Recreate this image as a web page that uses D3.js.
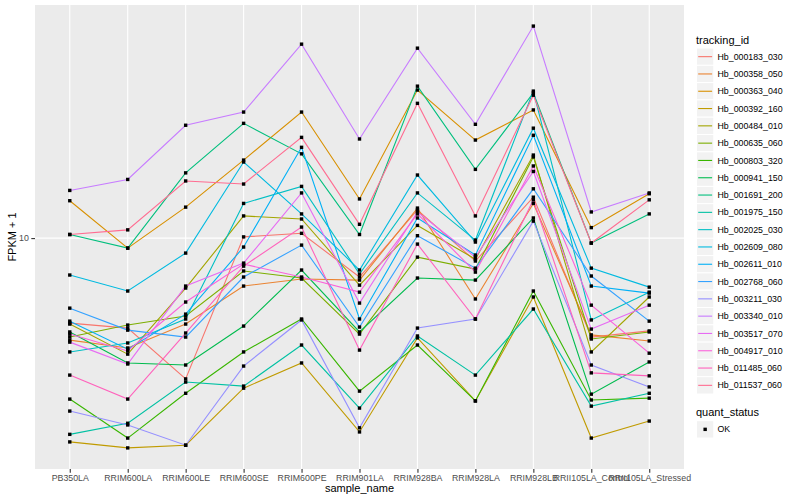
<!DOCTYPE html>
<html>
<head>
<meta charset="utf-8">
<script src="https://cdnjs.cloudflare.com/ajax/libs/d3/7.8.5/d3.min.js"></script>
<style>
  body { margin: 0; background: #fff; }
  svg { display: block; font-family: "Liberation Sans", Arial, sans-serif; }
</style>
</head>
<body>
<div id="chart"></div>
<script>
// FPKM + 1 per sample (log scale)
var samples = ["PB350LA", "RRIM600LA", "RRIM600LE", "RRIM600SE", "RRIM600PE",
  "RRIM901LA", "RRIM928BA", "RRIM928LA", "RRIM928LB", "RRII105LA_Control", "RRII105LA_Stressed"];

var trackingIds = ["Hb_000183_030", "Hb_000358_050", "Hb_000363_040", "Hb_000392_160",
  "Hb_000484_010", "Hb_000635_060", "Hb_000803_320", "Hb_000941_150", "Hb_001691_200",
  "Hb_001975_150", "Hb_002025_030", "Hb_002609_080", "Hb_002611_010", "Hb_002768_060",
  "Hb_003211_030", "Hb_003340_010", "Hb_003517_070", "Hb_004917_010", "Hb_011485_060",
  "Hb_011537_060"];

var hb_000183_030 = [4.97, 4.77, 3.14, 10.1, 10.4, 7.26, 12.6, 8.28, 14.0, 4.43, 4.66];
var hb_000358_050 = [4.32, 4.05, 4.93, 6.74, 7.14, 7.08, 12.8, 6.06, 13.3, 4.51, 4.29];
var hb_000363_040 = [13.6, 9.21, 12.9, 19.0, 28.2, 13.8, 33.8, 22.4, 28.7, 10.9, 14.4];
var hb_000392_160 = [1.87, 1.78, 1.82, 2.91, 3.58, 2.03, 4.40, 2.62, 6.16, 1.93, 2.22];
var hb_000484_010 = [4.93, 3.85, 6.63, 12.0, 11.7, 6.79, 11.1, 8.41, 19.8, 3.92, 6.16];
var hb_000635_060 = [4.43, 4.89, 5.27, 7.63, 7.20, 4.54, 8.55, 7.75, 19.5, 4.36, 4.62];
var hb_000803_320 = [2.66, 1.93, 2.79, 3.92, 5.14, 2.84, 4.15, 2.62, 6.47, 2.64, 2.68];
var hb_000941_150 = [4.62, 3.58, 3.52, 4.85, 7.69, 4.62, 7.20, 7.08, 11.8, 2.77, 3.61];
var hb_001691_200 = [10.3, 9.21, 17.1, 25.7, 20.0, 10.3, 34.9, 17.6, 33.0, 9.60, 12.2];
var hb_001975_150 = [1.99, 2.18, 3.06, 2.96, 4.15, 2.47, 4.47, 3.24, 5.58, 2.51, 2.79];
var hb_002025_030 = [3.92, 4.22, 5.14, 13.3, 15.3, 7.44, 14.5, 9.84, 33.5, 5.10, 6.41];
var hb_002609_080 = [7.38, 6.47, 8.84, 18.7, 12.2, 7.69, 16.8, 9.68, 24.7, 7.81, 6.68];
var hb_002611_010 = [5.05, 4.01, 5.35, 9.29, 21.1, 5.14, 11.8, 8.70, 23.3, 6.74, 6.36];
var hb_002768_060 = [5.62, 4.69, 4.43, 7.26, 9.44, 4.81, 10.2, 7.81, 15.0, 7.32, 5.05];
var hb_003211_030 = [2.41, 2.15, 1.82, 3.49, 5.10, 2.10, 4.77, 5.14, 11.5, 3.52, 2.94];
var hb_003340_010 = [14.8, 16.2, 25.3, 28.2, 49.3, 22.6, 47.7, 25.5, 57.2, 12.4, 14.5];
var hb_003517_070 = [4.25, 3.55, 6.74, 8.14, 14.5, 5.86, 12.4, 8.55, 17.3, 4.73, 5.76];
var hb_004917_010 = [4.54, 3.95, 5.91, 8.07, 7.26, 6.41, 12.2, 7.56, 18.1, 5.76, 3.88];
var hb_011485_060 = [3.24, 2.66, 4.58, 7.94, 10.95, 3.98, 9.52, 5.14, 13.7, 3.30, 3.22];
var hb_011537_060 = [10.3, 10.7, 16.0, 15.6, 22.9, 11.2, 30.3, 12.0, 32.4, 9.60, 13.7];

var yTicks = [10];
var quantStatus = ["OK"];

// ggplot hue palette for 20 levels
var palette = ["#F8766D", "#EA8331", "#D89000", "#C09B00", "#A3A500", "#7CAE00", "#39B600",
  "#00BB4E", "#00BF7D", "#00C1A3", "#00BFC4", "#00BAE0", "#00B0F6", "#35A2FF", "#9590FF",
  "#C77CFF", "#E76BF3", "#FA62DB", "#FF62BC", "#FF6C91"];

var seriesValues = [hb_000183_030, hb_000358_050, hb_000363_040, hb_000392_160, hb_000484_010,
  hb_000635_060, hb_000803_320, hb_000941_150, hb_001691_200, hb_001975_150, hb_002025_030,
  hb_002609_080, hb_002611_010, hb_002768_060, hb_003211_030, hb_003340_010, hb_003517_070,
  hb_004917_010, hb_011485_060, hb_011537_060];

var series = trackingIds.map(function(id, i) {
  return {
    id: id,
    values: samples.map(function(s, j) { return {sample: s, value: seriesValues[i][j]}; })
  };
});

var svgWidth = 800, svgHeight = 500;
var margin = {top: 5, right: 116, bottom: 31, left: 35};
var width = svgWidth - margin.left - margin.right,
    height = svgHeight - margin.top - margin.bottom;

var svg = d3.select('#chart').append('svg')
  .attr('width', svgWidth)
  .attr('height', svgHeight);

var g = svg.append('g')
  .attr('transform', 'translate(' + margin.left + ',' + margin.top + ')');

var x = d3.scalePoint()
  .domain(samples)
  .range([0, width])
  .padding(0.6);

// log10 limits with ggplot's 5% expansion
var logExt = d3.extent(d3.merge(seriesValues)).map(Math.log10);
var pad = (logExt[1] - logExt[0]) * 0.05;
var y = d3.scaleLog()
  .domain([Math.pow(10, logExt[0] - pad), Math.pow(10, logExt[1] + pad)])
  .range([height, 0]);

var color = d3.scaleOrdinal().domain(trackingIds).range(palette);

// panel + grid
g.append('rect')
  .attr('width', width)
  .attr('height', height)
  .attr('fill', '#EBEBEB');

g.selectAll('.vgrid')
  .data(samples)
  .enter().append('line')
  .attr('class', 'vgrid')
  .attr('x1', function(d) { return x(d); })
  .attr('x2', function(d) { return x(d); })
  .attr('y1', 0)
  .attr('y2', height)
  .attr('stroke', '#fff')
  .attr('stroke-width', 1.1);

g.selectAll('.hgrid')
  .data(yTicks)
  .enter().append('line')
  .attr('class', 'hgrid')
  .attr('x1', 0)
  .attr('x2', width)
  .attr('y1', function(d) { return y(d); })
  .attr('y2', function(d) { return y(d); })
  .attr('stroke', '#fff')
  .attr('stroke-width', 1.1);

// lines
var line = d3.line()
  .x(function(d) { return x(d.sample); })
  .y(function(d) { return y(d.value); });

g.selectAll('.series')
  .data(series)
  .enter().append('path')
  .attr('class', 'series')
  .attr('fill', 'none')
  .attr('stroke', function(d) { return color(d.id); })
  .attr('stroke-width', 1.1)
  .attr('d', function(d) { return line(d.values); });

// points (all quant_status OK -> black squares)
var pts = d3.merge(series.map(function(s) { return s.values; }));
var ps = 3.4;
g.selectAll('.pt')
  .data(pts)
  .enter().append('rect')
  .attr('class', 'pt')
  .attr('x', function(d) { return x(d.sample) - ps / 2; })
  .attr('y', function(d) { return y(d.value) - ps / 2; })
  .attr('width', ps)
  .attr('height', ps)
  .attr('fill', '#000');

// axes
var xAxis = g.append('g')
  .attr('transform', 'translate(0,' + height + ')')
  .call(d3.axisBottom(x).tickSize(3.7).tickPadding(2.4));
var yAxis = g.append('g')
  .call(d3.axisLeft(y).tickValues(yTicks).tickFormat(d3.format('d')).tickSize(3.7).tickPadding(2.4));

[xAxis, yAxis].forEach(function(a) {
  a.select('.domain').remove();
  a.selectAll('.tick line').attr('stroke', '#333333').attr('stroke-width', 1.1);
  a.selectAll('.tick text')
    .attr('fill', '#4D4D4D')
    .style('font-size', '8.8px')
    .style('font-family', '"Liberation Sans", Arial, sans-serif');
});

svg.append('text')
  .attr('x', margin.left + width / 2)
  .attr('y', 492)
  .attr('text-anchor', 'middle')
  .style('font-size', '11px')
  .text('sample_name');

svg.append('text')
  .attr('transform', 'translate(16,' + (margin.top + height / 2) + ') rotate(-90)')
  .attr('text-anchor', 'middle')
  .style('font-size', '11px')
  .text('FPKM + 1');

// legends
var keySize = 17.3;
var legend = svg.append('g').attr('transform', 'translate(696,0)');

legend.append('text')
  .attr('x', 0)
  .attr('y', 44)
  .style('font-size', '11px')
  .text('tracking_id');

var rows = legend.selectAll('.lrow')
  .data(trackingIds)
  .enter().append('g')
  .attr('class', 'lrow')
  .attr('transform', function(d, i) { return 'translate(0,' + (48 + i * keySize) + ')'; });

rows.append('rect')
  .attr('x', 0.5)
  .attr('width', keySize)
  .attr('height', keySize)
  .attr('fill', '#F2F2F2')
  .attr('stroke', '#fff');
rows.append('line')
  .attr('x1', 2.2)
  .attr('x2', keySize - 1.2)
  .attr('y1', keySize / 2)
  .attr('y2', keySize / 2)
  .attr('stroke', function(d) { return color(d); })
  .attr('stroke-width', 1.1);
rows.append('text')
  .attr('x', 21.5)
  .attr('y', keySize / 2)
  .attr('dy', '0.35em')
  .style('font-size', '8.8px')
  .text(function(d) { return d; });

legend.append('text')
  .attr('x', 0)
  .attr('y', 416)
  .style('font-size', '11px')
  .text('quant_status');

var qrows = legend.selectAll('.qrow')
  .data(quantStatus)
  .enter().append('g')
  .attr('class', 'qrow')
  .attr('transform', function(d, i) { return 'translate(0,' + (420.7 + i * keySize) + ')'; });
qrows.append('rect')
  .attr('x', 0.5)
  .attr('width', keySize)
  .attr('height', keySize)
  .attr('fill', '#F2F2F2')
  .attr('stroke', '#fff');
qrows.append('rect')
  .attr('x', 0.5 + keySize / 2 - ps / 2)
  .attr('y', keySize / 2 - ps / 2)
  .attr('width', ps)
  .attr('height', ps)
  .attr('fill', '#000');
qrows.append('text')
  .attr('x', 21.5)
  .attr('y', keySize / 2)
  .attr('dy', '0.35em')
  .style('font-size', '8.8px')
  .text(function(d) { return d; });
</script>
</body>
</html>
